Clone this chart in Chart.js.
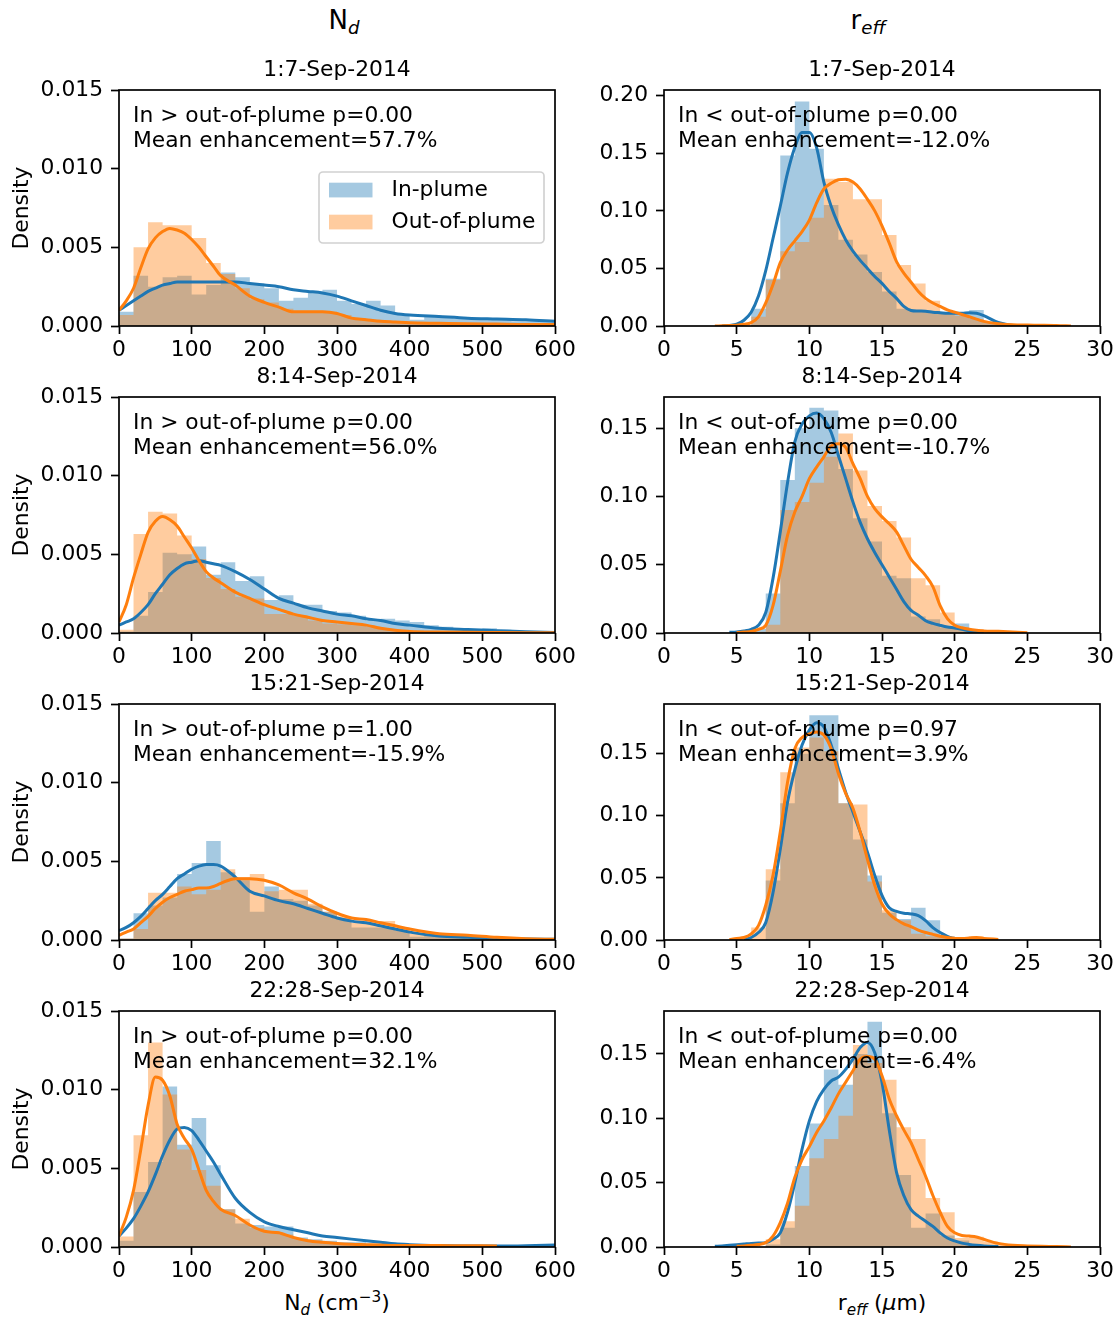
<!DOCTYPE html>
<html>
<head>
<meta charset="utf-8">
<script src="https://cdn.jsdelivr.net/npm/chart.js@4.4.1/dist/chart.umd.min.js"></script>
<style>
  body { margin: 0; background: #fff; width: 1118px; height: 1317px; position: relative; overflow: hidden; }
  canvas { position: absolute; }
  .lbl { position: absolute; font-family: 'DejaVu Sans', sans-serif; color: #000; white-space: nowrap;
         line-height: 1; transform: translateX(-50%); }
  .sb { font-size: 70%; font-style: italic; position: relative; top: 0.3em; }
  .sp { font-size: 70%; position: relative; top: -0.55em; }
</style>
</head>
<body>
<div class="lbl" style="left:344px; top:7px; font-size:26px">N<span class="sb">d</span></div>
<div class="lbl" style="left:868px; top:7px; font-size:26px">r<span class="sb">eff</span></div>
<div class="lbl" style="left:337px; top:1292px; font-size:21.8px">N<span class="sb">d</span> (cm<span class="sp">&minus;3</span>)</div>
<div class="lbl" style="left:882px; top:1292px; font-size:21.8px">r<span class="sb">eff</span> (<i>&mu;</i>m)</div>

<canvas id="p0" width="585" height="326" style="left:0px; top:45px"></canvas>
<canvas id="p1" width="524" height="326" style="left:594px; top:45px"></canvas>
<canvas id="p2" width="585" height="326" style="left:0px; top:352px"></canvas>
<canvas id="p3" width="524" height="326" style="left:594px; top:352px"></canvas>
<canvas id="p4" width="585" height="326" style="left:0px; top:659px"></canvas>
<canvas id="p5" width="524" height="326" style="left:594px; top:659px"></canvas>
<canvas id="p6" width="585" height="326" style="left:0px; top:966px"></canvas>
<canvas id="p7" width="524" height="326" style="left:594px; top:966px"></canvas>

<script>
// ----------------------------------------------------
// Data
// ----------------------------------------------------
const PERIODS = ['1:7-Sep-2014', '8:14-Sep-2014', '15:21-Sep-2014', '22:28-Sep-2014'];
const SERIES_LABELS = ['In-plume', 'Out-of-plume'];

const ND_X_TICKS = [0, 100, 200, 300, 400, 500, 600];
const ND_Y_TICKS = [0, 0.005, 0.010, 0.015];
const RE_X_TICKS = [0, 5, 10, 15, 20, 25, 30];
const RE_Y_MAX = [0.205, 0.1728, 0.190, 0.1834];

const ND_TEXT = [
    ['In > out-of-plume p=0.00', 'Mean enhancement=57.7%'],
    ['In > out-of-plume p=0.00', 'Mean enhancement=56.0%'],
    ['In > out-of-plume p=1.00', 'Mean enhancement=-15.9%'],
    ['In > out-of-plume p=0.00', 'Mean enhancement=32.1%']
];
const RE_TEXT = [
    ['In < out-of-plume p=0.00', 'Mean enhancement=-12.0%'],
    ['In < out-of-plume p=0.00', 'Mean enhancement=-10.7%'],
    ['In < out-of-plume p=0.97', 'Mean enhancement=3.9%'],
    ['In < out-of-plume p=0.00', 'Mean enhancement=-6.4%']
];

// histogram bin edges (one more edge than values)
const ND_EDGES = [0, 20, 40, 60, 80, 100, 120, 140, 160, 180, 200, 220, 240, 260, 280, 300,
                  320, 340, 360, 380, 400, 420, 440, 460, 480, 500, 520, 540, 560, 580, 600];
const RE_EDGES = [4, 5, 6, 7, 8, 9, 10, 11, 12, 13, 14, 15, 16, 17, 18, 19, 20, 21, 22, 23,
                  24, 25, 26, 27, 28];

// kde sample positions
const ND_KDE_X = [0, 10, 20, 30, 40, 50, 60, 70, 80, 90, 100, 110, 120, 130, 140, 160, 180,
                  200, 220, 240, 260, 280, 300, 320, 340, 360, 380, 400, 440, 480, 520, 560, 600];
const RE_KDE_X = [3.5, 4, 4.5, 5, 5.5, 6, 6.5, 7, 7.5, 8, 8.5, 9, 9.5, 10, 10.5, 11, 11.5, 12,
                  12.5, 13, 13.5, 14, 14.5, 15, 15.5, 16, 16.5, 17, 17.5, 18, 18.5, 19, 19.5,
                  20, 20.5, 21, 21.5, 22, 23, 24, 25, 26, 27, 28];

// Nd histograms (density)
const nd1In  = [0.0009, 0.0032, 0.0025, 0.0031, 0.0032, 0.0020, 0.0026, 0.0034, 0.0031, 0.0027, 0.0024, 0.0016, 0.0018, 0.0022, 0.0023, 0.0016, 0.0014, 0.0016, 0.0013, 0.0007, 0.0004, 0.0007, 0.0006, 0.0005, 0.0005, 0.0004, 0.0004, 0.0003, 0.0003, 0.00025];
const nd1Out = [0.0007, 0.0050, 0.0066, 0.0064, 0.0064, 0.0056, 0.0040, 0.0033, 0.0024, 0.0017, 0.0015, 0.0011, 0.0009, 0.0009, 0.0009, 0.0007, 0.0005, 0.0004, 0.0003, 0.0002, 0.0002, 0.0002, 0.0001, 0.0001, 0.0001, 0.0001, 0.0001, 0.0001, 0.0001, 0.0001];
const nd2In  = [0.0001, 0.0011, 0.0026, 0.0051, 0.0050, 0.0055, 0.0037, 0.0045, 0.0033, 0.0036, 0.0021, 0.0024, 0.0018, 0.0018, 0.0014, 0.0013, 0.0011, 0.0008, 0.0009, 0.0008, 0.0007, 0.0005, 0.0004, 0.0003, 0.00025, 0.0003, 0.0002, 0.0001, 0.00005, 0.00005];
const nd2Out = [0.0002, 0.0063, 0.0077, 0.0076, 0.0062, 0.0047, 0.0035, 0.0028, 0.0023, 0.0022, 0.0012, 0.0012, 0.0011, 0.0008, 0.0006, 0.00055, 0.0005, 0.0004, 0.00023, 0.0002, 0.00015, 0.0001, 0.0001, 0.00005, 0.00005, 0.00005, 0.00003, 0.00003, 0.00002, 0.00002];
const nd3In  = [0.0001, 0.0017, 0.0022, 0.0027, 0.0042, 0.0049, 0.0063, 0.0043, 0.0038, 0.0018, 0.0034, 0.0026, 0.0025, 0.0022, 0.0018, 0.0014, 0.0008, 0.0008, 0.0008, 0.0006, 0.0002, 0.0003, 0.0002, 0.0002, 0.00015, 0.0001, 0.00008, 0.00005, 0.00004, 0.00003];
const nd3Out = [0.0001, 0.0007, 0.0030, 0.0030, 0.0034, 0.0029, 0.0032, 0.0045, 0.0040, 0.0042, 0.0031, 0.0032, 0.0032, 0.0023, 0.0018, 0.0015, 0.0011, 0.0012, 0.0012, 0.0008, 0.0004, 0.0005, 0.0003, 0.0003, 0.0002, 0.0002, 0.0001, 0.00008, 0.00005, 0.00004];
const nd4In  = [0.0004, 0.0035, 0.0054, 0.0102, 0.0065, 0.0082, 0.0052, 0.0024, 0.0015, 0.0014, 0.0013, 0.0013, 0.0006, 0.0005, 0.0004, 0.0003, 0.0003, 0.0002, 0.0001, 0.0001, 0.00005, 0.00005, 0.00005, 0.00005, 0.00005, 0.00005, 0.00005, 0.0001, 0.0001, 0.0001];
const nd4Out = [0.00066, 0.0071, 0.0130, 0.0097, 0.0062, 0.0049, 0.0039, 0.0024, 0.0018, 0.0012, 0.0010, 0.0008, 0.0005, 0.0004, 0.0003, 0.0002, 0.0001, 0.0001, 0.00008, 0.00005, 0.00005, 0.00005, 0.00005, 0.00005, 0.00005, 0.00005, 0.00004, 0.00003, 0.00003, 0.00003];

// Nd kde curves
const nd1InKde  = [0.0010, 0.0013, 0.0016, 0.0019, 0.0022, 0.0024, 0.0026, 0.0027, 0.0028, 0.0028, 0.0028, 0.0028, 0.0028, 0.0028, 0.0028, 0.0028, 0.0027, 0.0026, 0.0025, 0.0023, 0.0022, 0.0021, 0.0019, 0.0016, 0.0013, 0.0010, 0.0008, 0.0007, 0.0006, 0.0005, 0.00045, 0.0004, 0.0003];
const nd1OutKde = [0.0010, 0.0016, 0.0024, 0.0037, 0.0049, 0.0056, 0.0060, 0.0062, 0.0061, 0.0059, 0.0055, 0.0050, 0.0044, 0.0038, 0.0032, 0.0026, 0.0019, 0.0015, 0.0012, 0.0009, 0.0009, 0.0009, 0.0008, 0.0005, 0.0004, 0.0003, 0.00025, 0.0002, 0.00017, 0.00014, 0.00012, 0.0001, 0.0001];
const nd2InKde  = [0.0005, 0.0007, 0.0009, 0.0013, 0.0018, 0.0025, 0.0031, 0.0037, 0.0041, 0.0044, 0.0045, 0.0046, 0.0045, 0.0044, 0.0043, 0.0039, 0.0034, 0.0028, 0.0022, 0.0019, 0.0016, 0.0014, 0.0012, 0.0011, 0.0009, 0.0008, 0.0006, 0.0005, 0.0003, 0.00022, 0.00015, 0.00008, 0.00003];
const nd2OutKde = [0.0007, 0.0018, 0.0035, 0.0050, 0.0064, 0.0071, 0.0074, 0.0072, 0.0068, 0.0061, 0.0054, 0.0046, 0.0039, 0.0035, 0.0032, 0.0026, 0.0022, 0.0018, 0.0015, 0.0012, 0.0010, 0.0008, 0.0007, 0.0006, 0.0005, 0.0003, 0.00017, 0.0001, 0.00006, 0.00004, 0.00003, 0.00002, 0.00001];
const nd3InKde  = [0.0006, 0.0008, 0.0011, 0.0015, 0.0020, 0.0025, 0.0029, 0.0034, 0.0039, 0.0042, 0.0045, 0.0047, 0.0048, 0.0048, 0.0047, 0.0040, 0.0031, 0.0028, 0.0025, 0.0023, 0.0020, 0.0017, 0.0014, 0.0012, 0.0011, 0.0009, 0.0007, 0.0005, 0.00025, 0.00017, 0.0001, 0.00006, 0.00004];
const nd3OutKde = [0.0003, 0.0005, 0.0007, 0.0011, 0.0015, 0.0020, 0.0024, 0.0027, 0.0029, 0.0031, 0.0032, 0.0033, 0.0033, 0.0034, 0.0036, 0.0039, 0.0039, 0.0038, 0.0035, 0.0030, 0.0026, 0.0021, 0.0017, 0.0014, 0.0013, 0.0011, 0.0009, 0.0007, 0.0004, 0.0003, 0.00017, 0.00008, 0.00004];
const nd4InKde  = [0.0007, 0.0012, 0.0018, 0.0026, 0.0035, 0.0046, 0.0058, 0.0068, 0.0075, 0.0076, 0.0074, 0.0068, 0.0061, 0.0054, 0.0046, 0.0031, 0.0022, 0.0016, 0.0013, 0.0011, 0.0009, 0.0007, 0.0006, 0.0005, 0.0004, 0.0003, 0.0002, 0.00015, 0.00009, 0.00006, 0.00006, 0.00008, 0.00013];
const nd4OutKde = [0.0007, 0.0019, 0.0036, 0.0062, 0.0090, 0.0108, 0.0106, 0.0096, 0.0078, 0.0069, 0.0062, 0.0049, 0.0036, 0.0029, 0.0024, 0.0020, 0.0014, 0.0010, 0.0009, 0.0006, 0.0004, 0.0003, 0.00023, 0.00018, 0.00015, 0.00012, 0.0001, 0.0001, 0.00009, 0.00008, 0.00007, null, null];

// reff histograms (density), bins 4-5 ... 27-28
const re1In  = [0, 0, 0.015, 0.041, 0.148, 0.195, 0.154, 0.105, 0.075, 0.062, 0.047, 0.030, 0.015, 0.013, 0.013, 0.012, 0.012, 0.014, 0.004, 0.001, 0, 0, 0, 0];
const re1Out = [0, 0, 0.008, 0.040, 0.065, 0.073, 0.094, 0.128, 0.125, 0.110, 0.110, 0.079, 0.053, 0.037, 0.022, 0.012, 0.009, 0.006, 0.003, 0.002, 0.001, 0.001, 0.0005, 0.0003];
const re2In  = [0, 0, 0.003, 0.029, 0.112, 0.150, 0.165, 0.163, 0.120, 0.084, 0.067, 0.042, 0.040, 0.012, 0.010, 0.004, 0.007, 0.001, 0, 0, 0, 0, 0, 0];
const re2Out = [0, 0, 0.001, 0.006, 0.090, 0.096, 0.110, 0.129, 0.146, 0.119, 0.093, 0.082, 0.070, 0.040, 0.035, 0.015, 0.004, 0.003, 0.001, 0.0005, 0, 0, 0, 0];
const re3In  = [0, 0, 0, 0.048, 0.110, 0.150, 0.181, 0.181, 0.110, 0.081, 0.052, 0.022, 0.017, 0.026, 0.016, 0.003, 0, 0, 0, 0, 0, 0, 0, 0];
const re3Out = [0, 0, 0.010, 0.057, 0.135, 0.155, 0.163, 0.152, 0.110, 0.109, 0.047, 0.024, 0.016, 0.005, 0.003, 0.003, 0.002, 0.003, 0.001, 0, 0, 0, 0, 0];
const re4In  = [0, 0, 0, 0.002, 0.015, 0.063, 0.096, 0.138, 0.126, 0.150, 0.175, 0.104, 0.056, 0.015, 0.026, 0.009, 0.005, 0.002, 0.001, 0, 0, 0, 0, 0];
const re4Out = [0, 0, 0, 0.006, 0.020, 0.032, 0.069, 0.084, 0.102, 0.157, 0.143, 0.130, 0.093, 0.084, 0.038, 0.027, 0.007, 0.008, 0.004, 0.002, 0.001, 0, 0, 0];

// reff kde curves
const re1InKde  = [null, 0, 0.0005, 0.0015, 0.005, 0.012, 0.026, 0.048, 0.076, 0.104, 0.133, 0.155, 0.168, 0.168, 0.155, 0.125, 0.104, 0.088, 0.075, 0.065, 0.057, 0.050, 0.043, 0.037, 0.030, 0.024, 0.017, 0.0135, 0.013, 0.0128, 0.012, 0.0115, 0.011, 0.011, 0.011, 0.0115, 0.011, 0.009, 0.003, 0.0005, null, null, null, null];
const re1OutKde = [0, 0.0002, 0.0004, 0.0006, 0.0015, 0.003, 0.008, 0.020, 0.036, 0.055, 0.066, 0.074, 0.082, 0.092, 0.107, 0.119, 0.124, 0.127, 0.1275, 0.125, 0.119, 0.110, 0.100, 0.087, 0.072, 0.056, 0.046, 0.038, 0.030, 0.024, 0.020, 0.017, 0.014, 0.012, 0.010, 0.008, 0.006, 0.004, 0.002, 0.001, 0.0008, 0.0007, 0.0005, 0];
const re2InKde  = [null, null, 0.0005, 0.0008, 0.0015, 0.0027, 0.0056, 0.015, 0.040, 0.074, 0.110, 0.140, 0.153, 0.159, 0.161, 0.157, 0.147, 0.130, 0.113, 0.096, 0.081, 0.069, 0.059, 0.050, 0.041, 0.032, 0.023, 0.0166, 0.013, 0.009, 0.007, 0.0056, 0.0044, 0.0037, 0.0027, 0.0015, 0.0007, 0.0002, null, null, null, null, null, null];
const re2OutKde = [null, null, null, 0.0003, 0.0007, 0.0012, 0.0027, 0.0056, 0.020, 0.045, 0.0715, 0.0886, 0.100, 0.113, 0.1215, 0.129, 0.137, 0.1386, 0.136, 0.124, 0.113, 0.100, 0.091, 0.085, 0.080, 0.074, 0.064, 0.054, 0.048, 0.042, 0.034, 0.020, 0.0105, 0.0056, 0.0038, 0.0027, 0.002, 0.0015, 0.0012, 0.0007, 0.0002, null, null, null];
const re3InKde  = [null, null, null, null, 0.0003, 0.002, 0.006, 0.014, 0.038, 0.073, 0.111, 0.137, 0.157, 0.169, 0.175, 0.1715, 0.157, 0.138, 0.119, 0.103, 0.087, 0.0707, 0.052, 0.036, 0.026, 0.023, 0.0215, 0.021, 0.0196, 0.0156, 0.010, 0.006, 0.003, 0.0008, 0.0002, null, null, null, null, null, null, null, null, null];
const re3OutKde = [null, null, 0.0003, 0.0013, 0.002, 0.005, 0.0116, 0.028, 0.052, 0.087, 0.127, 0.154, 0.163, 0.166, 0.1675, 0.165, 0.154, 0.134, 0.118, 0.106, 0.087, 0.065, 0.044, 0.029, 0.021, 0.0164, 0.013, 0.0108, 0.008, 0.006, 0.0045, 0.003, 0.002, 0.0013, 0.0013, 0.0016, 0.002, 0.0013, 0.0005, null, null, null, null, null];
const re4InKde  = [0.0005, 0.0008, 0.0013, 0.0018, 0.0023, 0.0028, 0.0031, 0.0034, 0.006, 0.011, 0.027, 0.050, 0.076, 0.098, 0.113, 0.1225, 0.129, 0.132, 0.138, 0.146, 0.155, 0.159, 0.151, 0.128, 0.091, 0.058, 0.040, 0.029, 0.024, 0.020, 0.016, 0.011, 0.007, 0.0047, 0.003, 0.002, 0.0013, 0.0008, 0.0003, null, null, null, null, null];
const re4OutKde = [null, null, null, 0.0005, 0.0008, 0.0013, 0.002, 0.0034, 0.0085, 0.019, 0.034, 0.054, 0.068, 0.078, 0.089, 0.098, 0.108, 0.119, 0.128, 0.137, 0.146, 0.148, 0.146, 0.133, 0.115, 0.102, 0.091, 0.081, 0.068, 0.055, 0.040, 0.027, 0.016, 0.011, 0.009, 0.0085, 0.0078, 0.006, 0.0028, 0.0013, 0.0008, 0.0005, 0.0003, 0];

// ----------------------------------------------------
// Chart.js defaults (matplotlib-ish look)
// ----------------------------------------------------
const FONT_PX = 21.8;
Chart.defaults.font.family = "'DejaVu Sans', sans-serif";
Chart.defaults.font.size = FONT_PX;
Chart.defaults.color = '#000';

const BLUE = '#1f77b4';
const ORANGE = '#ff7f0e';
const BLUE_FILL = 'rgba(31, 119, 180, 0.4)';
const ORANGE_FILL = 'rgba(255, 127, 14, 0.4)';

// text box, legend and the four spines, drawn over the data like matplotlib does
const panelDecor = {
    id: 'panelDecor',
    afterDraw(chart, args, opts) {
        const ctx = chart.ctx;
        const a = chart.chartArea;
        ctx.save();
        ctx.font = FONT_PX + "px 'DejaVu Sans'";
        ctx.fillStyle = '#000';
        ctx.textAlign = 'left';
        ctx.textBaseline = 'middle';
        opts.lines.forEach((t, i) => ctx.fillText(t, a.left + 14, a.top + 26.5 + i * 25));

        if (opts.legend) {
            const w = 225, h = 71;
            const x0 = a.right - 11 - w;
            const y0 = a.top + 82;
            ctx.beginPath();
            ctx.roundRect(x0, y0, w, h, 4);
            ctx.fillStyle = 'rgba(255,255,255,0.8)';
            ctx.fill();
            ctx.strokeStyle = 'rgba(204,204,204,0.9)';
            ctx.lineWidth = 1.7;
            ctx.stroke();
            const hists = chart.data.datasets.filter(d => d.isHist);
            hists.forEach((d, i) => {
                const cy = y0 + 18 + i * 32;
                ctx.fillStyle = d.backgroundColor;
                ctx.fillRect(x0 + 10, cy - 7.3, 43.5, 14.7);
                ctx.fillStyle = '#000';
                ctx.fillText(d.label, x0 + 72.5, cy);
            });
        }

        ctx.strokeStyle = '#000';
        ctx.lineWidth = 1.7;
        ctx.strokeRect(a.left, a.top, a.right - a.left, a.bottom - a.top);
        ctx.restore();
    }
};

// step outline over the bin edges; the last edge repeats the last bin's height
function histData(edges, vals) {
    return edges.map((x, i) => ({x: x, y: vals[Math.min(i, vals.length - 1)]}));
}

function kdeData(xs, ys) {
    return xs.map((x, i) => ({x: x, y: ys[i]}));
}

function histSet(label, edges, vals, fillColor, order) {
    return {
        type: 'line', isHist: true, label: label,
        data: histData(edges, vals),
        stepped: 'before', fill: 'origin',
        backgroundColor: fillColor, borderColor: 'rgba(0,0,0,0)', borderWidth: 1,
        pointRadius: 0, order: order
    };
}

function kdeSet(label, xs, ys, color, order) {
    return {
        type: 'line', label: label,
        data: kdeData(xs, ys),
        borderColor: color, borderWidth: 3, pointRadius: 0, fill: false,
        cubicInterpolationMode: 'monotone', spanGaps: false, order: order
    };
}

function makePanel(id, p) {
    const isNd = p.col === 0;
    const tickGrid = {
        display: true,
        drawOnChartArea: false,
        drawTicks: true,
        tickLength: 8,
        tickWidth: 1.7,
        tickColor: '#000'
    };
    const xTicks = isNd ? ND_X_TICKS : RE_X_TICKS;

    // both histograms first, then both kde lines on top (matplotlib zorder)
    new Chart(document.getElementById(id), {
        type: 'line',
        data: {
            datasets: [
                histSet(SERIES_LABELS[0], p.edges, p.inHist, BLUE_FILL, 4),
                histSet(SERIES_LABELS[1], p.edges, p.outHist, ORANGE_FILL, 3),
                kdeSet(SERIES_LABELS[0] + ' KDE', p.kdeX, p.inKde, BLUE, 2),
                kdeSet(SERIES_LABELS[1] + ' KDE', p.kdeX, p.outKde, ORANGE, 1)
            ]
        },
        options: {
            responsive: false,
            animation: false,
            events: [],
            layout: { padding: { left: 0, right: isNd ? 30 : 18, top: 0, bottom: 0 } },
            plugins: {
                legend: { display: false },
                tooltip: { enabled: false },
                title: {
                    display: true,
                    fullSize: false,
                    text: p.title,
                    font: { size: FONT_PX, weight: 'normal' },
                    color: '#000',
                    padding: { top: 12.0, bottom: 6.84 }
                },
                panelDecor: { lines: p.lines, legend: p.legend }
            },
            scales: {
                x: {
                    type: 'linear',
                    min: xTicks[0],
                    max: xTicks[xTicks.length - 1],
                    offset: false,
                    grid: tickGrid,
                    border: { display: false },
                    ticks: {
                        stepSize: xTicks[1] - xTicks[0],
                        autoSkip: false,
                        maxRotation: 0,
                        includeBounds: false,
                        padding: 3,
                        color: '#000'
                    },
                    afterFit(s) { s.height = 45; s.paddingLeft = 0; s.paddingRight = 0; }
                },
                y: {
                    type: 'linear',
                    min: 0,
                    max: isNd ? ND_Y_TICKS[ND_Y_TICKS.length - 1] : p.yMax,
                    grid: tickGrid,
                    border: { display: false },
                    ticks: {
                        stepSize: isNd ? ND_Y_TICKS[1] : 0.05,
                        includeBounds: false,
                        padding: 8,
                        color: '#000',
                        callback: v => v.toFixed(isNd ? 3 : 2)
                    },
                    title: {
                        display: isNd,
                        text: 'Density',
                        color: '#000',
                        font: { size: FONT_PX },
                        padding: { top: 9, bottom: 0 }
                    },
                    afterFit(s) { s.width = isNd ? 119 : 70; s.paddingTop = 0; s.paddingBottom = 0; }
                }
            }
        },
        plugins: [panelDecor]
    });
}

document.addEventListener('DOMContentLoaded', function() {
    const ndHist = [[nd1In, nd1Out], [nd2In, nd2Out], [nd3In, nd3Out], [nd4In, nd4Out]];
    const ndKde = [[nd1InKde, nd1OutKde], [nd2InKde, nd2OutKde], [nd3InKde, nd3OutKde], [nd4InKde, nd4OutKde]];
    const reHist = [[re1In, re1Out], [re2In, re2Out], [re3In, re3Out], [re4In, re4Out]];
    const reKde = [[re1InKde, re1OutKde], [re2InKde, re2OutKde], [re3InKde, re3OutKde], [re4InKde, re4OutKde]];

    for (let r = 0; r < 4; r++) {
        makePanel('p' + (r * 2), {
            col: 0, title: PERIODS[r], lines: ND_TEXT[r], legend: r === 0,
            edges: ND_EDGES, inHist: ndHist[r][0], outHist: ndHist[r][1],
            kdeX: ND_KDE_X, inKde: ndKde[r][0], outKde: ndKde[r][1]
        });
        makePanel('p' + (r * 2 + 1), {
            col: 1, title: PERIODS[r], lines: RE_TEXT[r], legend: false, yMax: RE_Y_MAX[r],
            edges: RE_EDGES, inHist: reHist[r][0], outHist: reHist[r][1],
            kdeX: RE_KDE_X, inKde: reKde[r][0], outKde: reKde[r][1]
        });
    }
});
</script>
</body>
</html>
